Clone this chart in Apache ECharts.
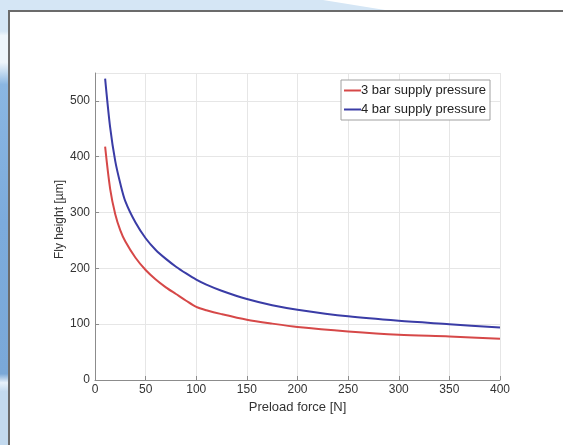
<!DOCTYPE html>
<html>
<head>
<meta charset="utf-8">
<script src="https://cdn.jsdelivr.net/npm/echarts@6/dist/echarts.min.js"></script>
<style>
html,body{margin:0;padding:0;background:#fff;}
#c{width:563px;height:445px;}
</style>
</head>
<body>
<div id="c"></div>
<script>
// Preload force [N]
var forceN = [10,15,20,25,30,40,50,60,70,80,90,100,110,125,150,175,200,250,300,350,400];
// Fly height [µm]
var bar3 = [418,342,297,268,248,219,197,180,166,154,142,131,125,118,108,101,95,87,81,78,74];
var bar4 = [540,452,392,352,320,282,254,233,217,203,191,180,171,160,145,134,126,114,106,100,94];
var seriesNames = ['3 bar supply pressure','4 bar supply pressure'];
var xTicks = {min:0, max:400, step:50};
var yTicks = {min:0, max:550, step:100};

function pairs(xs, ys){ return xs.map(function(x,i){ return [x, ys[i]]; }); }

var chart = echarts.init(document.getElementById('c'), null, {renderer:'canvas'});
var font = 'Liberation Sans, Arial, sans-serif';
chart.setOption({
  backgroundColor:'#ffffff',
  animation:false,
  graphic:[
    {type:'rect', z:-10, silent:true, shape:{x:0,y:0,width:10,height:445}, style:{fill:new echarts.graphic.LinearGradient(0,0,0,1,[
      {offset:0,color:'#d5e6f5'},{offset:0.07,color:'#d5e6f5'},{offset:0.08,color:'#eef5fb'},{offset:0.14,color:'#eef5fb'},
      {offset:0.16,color:'#c8ddf1'},{offset:0.19,color:'#8ab6e2'},{offset:0.5,color:'#7cabdc'},{offset:0.84,color:'#7aa8d8'},
      {offset:0.86,color:'#e8f1fa'},{offset:0.88,color:'#c3daef'},{offset:1,color:'#c3daef'}])}},
    {type:'polygon', z:-10, silent:true, shape:{points:[[0,0],[323,0],[385,10],[0,10]]}, style:{fill:'#d5e6f5'}},
    {type:'rect', z:-5, silent:true, shape:{x:9,y:11,width:560,height:440}, style:{fill:'#ffffff',stroke:'#6b6b6b',lineWidth:2}}
  ],
  grid:{left:95, right:63, top:73, bottom:65, containLabel:false},
  legend:{
    data:seriesNames, orient:'vertical', left:341, top:80,
    backgroundColor:'#ffffff', borderColor:'#a0a0a0', borderWidth:1, borderRadius:0,
    padding:[4,4,4,3], itemGap:6, itemWidth:17, itemHeight:2, icon:'rect',
    textStyle:{fontFamily:font, fontSize:13, color:'#222', padding:[0,0,0,-5]}
  },
  xAxis:{
    type:'value', min:xTicks.min, max:xTicks.max, interval:xTicks.step,
    name:'Preload force [N]', nameLocation:'middle', nameGap:19,
    nameTextStyle:{fontFamily:font, fontSize:13, color:'#333'},
    axisLine:{show:true, lineStyle:{color:'#8c8c8c', width:1}},
    axisTick:{show:true, inside:true, length:4, lineStyle:{color:'#8c8c8c'}},
    axisLabel:{fontFamily:font, fontSize:12, color:'#333', margin:4},
    splitLine:{show:true, lineStyle:{color:'#e6e6e6', width:1}}
  },
  yAxis:{
    type:'value', min:yTicks.min, max:yTicks.max, interval:yTicks.step,
    name:'Fly height [\u00b5m]', nameLocation:'middle', nameGap:29, nameMoveOverlap:false,
    nameTextStyle:{fontFamily:font, fontSize:12, color:'#333', padding:[0,0,0,14]},
    axisLine:{show:true, lineStyle:{color:'#8c8c8c', width:1}},
    axisTick:{show:true, inside:true, length:4, lineStyle:{color:'#8c8c8c'}},
    axisLabel:{fontFamily:font, fontSize:12, color:'#333', margin:5, showMaxLabel:false},
    splitLine:{show:true, lineStyle:{color:'#e6e6e6', width:1}}
  },
  series:[
    {name:seriesNames[0], type:'line', data:pairs(forceN, bar3), showSymbol:false, smooth:0.3,
     lineStyle:{color:'#d64848', width:2}, itemStyle:{color:'#d64848'}},
    {name:seriesNames[1], type:'line', data:pairs(forceN, bar4), showSymbol:false, smooth:0.3,
     lineStyle:{color:'#3a3ca6', width:2}, itemStyle:{color:'#3a3ca6'}}
  ]
});
</script>
</body>
</html>
